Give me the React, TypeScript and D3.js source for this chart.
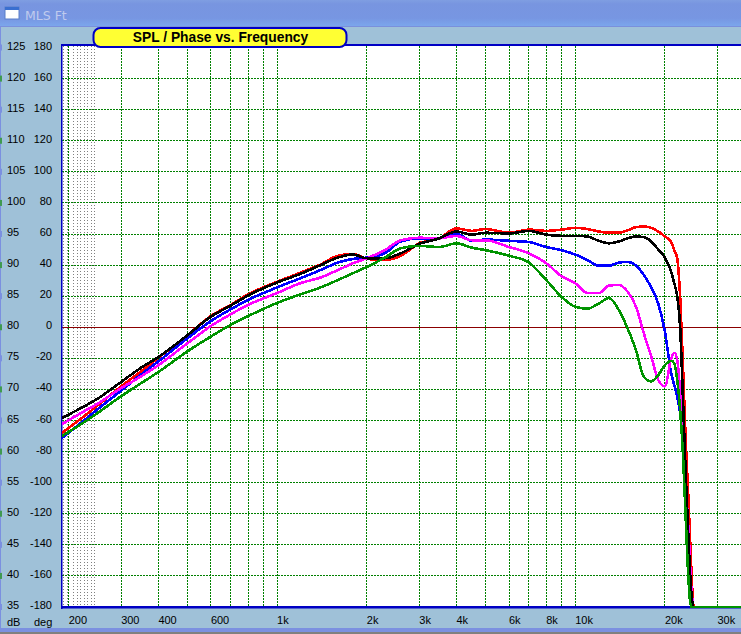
import React, { useEffect, useRef } from 'react';
import * as d3 from 'd3';

const WIDTH = 741;
const HEIGHT = 634;

const freqs = [190, 220, 250, 300, 350, 400, 500, 600, 700, 800, 1000, 1200, 1400, 1600, 1800, 2000, 2300, 2600, 3000, 3500, 4000, 4500, 5000, 6000, 7000, 8000, 9000, 10000, 11000, 12000, 13000, 14000, 15000, 16000, 17000, 18000, 19000, 20000, 21000, 21500, 22000, 22500, 23000, 23500, 24000, 24500, 25000, 36000];

const redDb = [63.0, 65.3, 67.4, 70.5, 72.9, 75.1, 78.7, 81.8, 83.6, 85.3, 87.3, 88.8, 90.1, 91.5, 91.8, 91.0, 90.8, 91.5, 93.5, 94.3, 95.9, 95.5, 95.8, 95.2, 95.7, 95.5, 95.7, 96.0, 95.8, 95.4, 95.2, 95.2, 95.6, 96.1, 96.2, 96.0, 95.4, 94.6, 93.7, 92.4, 91.1, 84.9, 73.9, 61.4, 52.2, 41.7, 35, 35];
const blueDb = [62.2, 64.6, 66.8, 69.8, 72.4, 74.5, 78.2, 81.0, 82.9, 84.4, 86.4, 87.9, 89.2, 90.4, 91.0, 91.2, 91.9, 93.8, 94.3, 94.3, 95.0, 93.9, 94.1, 93.9, 93.7, 92.9, 92.4, 91.7, 90.8, 89.9, 89.9, 90.4, 90.5, 89.9, 88.4, 86.4, 83.8, 79.3, 72.6, 70.7, 68.8, 66.2, 61.9, 53.8, 45.8, 37.7, 35, 35];
const magentaDb = [64.4, 66.2, 67.7, 70.2, 72.1, 73.9, 77.4, 80.2, 82.1, 83.6, 85.5, 87.1, 88.0, 89.2, 90.3, 91.1, 92.4, 94.0, 94.4, 94.3, 94.7, 94.0, 94.0, 92.9, 91.9, 90.3, 88.2, 87.1, 85.5, 85.5, 86.7, 86.8, 85.7, 83.3, 79.0, 75.3, 71.5, 70.5, 75.0, 75.9, 74.7, 69.6, 62.2, 55.1, 47.4, 38.5, 35, 35];
const blackDb = [65.4, 67.0, 68.5, 71.2, 73.5, 75.2, 78.7, 81.7, 83.5, 85.1, 87.2, 88.6, 90.0, 91.2, 91.7, 91.1, 91.1, 91.9, 93.4, 94.3, 95.4, 94.9, 95.2, 95.1, 95.5, 94.9, 94.7, 94.7, 94.6, 93.9, 93.5, 93.8, 94.3, 94.6, 94.5, 93.8, 92.5, 91.2, 88.9, 87.1, 84.9, 80.0, 68.3, 56.2, 45.8, 37.7, 35, 35];
const greenDb = [62.5, 64.4, 66.2, 68.9, 71.0, 72.8, 76.1, 78.5, 80.4, 81.8, 83.9, 85.3, 86.4, 87.6, 88.7, 89.7, 91.2, 92.7, 93.1, 92.9, 93.5, 92.8, 92.4, 91.5, 90.4, 87.6, 84.9, 83.3, 83.0, 83.8, 84.7, 82.8, 79.8, 76.3, 72.0, 71.3, 72.3, 73.9, 74.6, 74.2, 71.5, 66.7, 59.4, 49.0, 39.3, 35, 35, 35];

const series = [
  { name: 'red', values: redDb, color: '#ff0000' },
  { name: 'blue', values: blueDb, color: '#0000ff' },
  { name: 'magenta', values: magentaDb, color: '#ff00ff' },
  { name: 'black', values: blackDb, color: '#000000' },
  { name: 'green', values: greenDb, color: '#009400' },
];

const dbTicks = [125, 120, 115, 110, 105, 100, 95, 90, 85, 80, 75, 70, 65, 60, 55, 50, 45, 40, 35];
const degTicks = [180, 160, 140, 120, 100, 80, 60, 40, 20, 0, -20, -40, -60, -80, -100, -120, -140, -160, -180];
const gridFreqs = [200, 300, 400, 500, 600, 700, 800, 900, 1000, 2000, 3000, 4000, 5000, 6000, 7000, 8000, 9000, 10000, 20000, 30000];
const fineFreqs = [192, 198, 208, 214, 220, 226, 232, 238, 245];
const freqTicks = [200, 300, 400, 600, 1000, 2000, 3000, 4000, 6000, 8000, 10000, 20000, 30000];

const LABEL_FONT = '"Liberation Sans", Arial, sans-serif';
const PANEL = '#9fc1d8';
const BORDER = '#0000c4';

const formatFreq = (f: number) => (f >= 1000 ? `${f / 1000}k` : `${f}`);

export default function App() {
  const svgRef = useRef<SVGSVGElement>(null);

  useEffect(() => {
    if (!svgRef.current) return;
    const svg = d3.select(svgRef.current);
    svg.selectAll('*').remove();

    const x = d3.scaleLog().domain([190, 36000]).range([62, 741]);
    const y = d3.scaleLinear().domain([35, 125]).range([607, 47.5]);

    const defs = svg.append('defs');
    const grad = defs.append('linearGradient').attr('id', 'titlebar').attr('x1', 0).attr('x2', 0).attr('y1', 0).attr('y2', 1);
    grad.append('stop').attr('offset', '0%').attr('stop-color', '#7f9ee2');
    grad.append('stop').attr('offset', '15%').attr('stop-color', '#7895e0');
    grad.append('stop').attr('offset', '70%').attr('stop-color', '#7796e2');
    grad.append('stop').attr('offset', '100%').attr('stop-color', '#7ba6ec');
    defs.append('clipPath').attr('id', 'plot').append('rect').attr('x', 62).attr('y', 45).attr('width', 679).attr('height', 564);

    // Window chrome
    svg.append('rect').attr('width', WIDTH).attr('height', HEIGHT).attr('fill', PANEL);
    svg.append('rect').attr('width', WIDTH).attr('height', 26).attr('fill', 'url(#titlebar)');
    svg.append('rect').attr('y', 26).attr('width', WIDTH).attr('height', 1).attr('fill', '#7a90dc');
    svg.append('rect').attr('x', 5).attr('y', 7).attr('width', 14).attr('height', 12).attr('fill', '#ffffff').attr('stroke', '#5a7fc8');
    svg.append('rect').attr('x', 5).attr('y', 7).attr('width', 14).attr('height', 3).attr('fill', '#3a6fd0');
    svg.append('text').attr('x', 25).attr('y', 20).attr('font-family', '"DejaVu Sans", sans-serif').attr('font-size', 12.5).attr('fill', '#c0cbee').text('MLS Ft');
    svg.append('rect').attr('y', 628).attr('width', WIDTH).attr('height', 4).attr('fill', '#7b90e0');
    svg.append('rect').attr('y', 632).attr('width', WIDTH).attr('height', 2).attr('fill', '#808080');
    svg.append('rect').attr('x', 0).attr('y', 27).attr('width', 1).attr('height', 601).attr('fill', '#7b90e0');

    // Plot area
    svg.append('rect').attr('x', 62).attr('y', 45).attr('width', 679).attr('height', 562).attr('fill', '#ffffff');

    const grid = svg.append('g').attr('shape-rendering', 'crispEdges');
    fineFreqs.forEach(f => {
      grid.append('line')
        .attr('x1', x(f)).attr('x2', x(f)).attr('y1', 46).attr('y2', 607)
        .attr('stroke', '#808080').attr('stroke-dasharray', '1,2');
    });
    gridFreqs.forEach(f => {
      grid.append('line')
        .attr('x1', x(f)).attr('x2', x(f)).attr('y1', 46).attr('y2', 607)
        .attr('stroke', '#008000').attr('stroke-dasharray', '2,1');
    });
    dbTicks.forEach(d => {
      if (d === 125 || d === 35) return;
      grid.append('line')
        .attr('x1', 62).attr('x2', 741).attr('y1', y(d)).attr('y2', y(d))
        .attr('stroke', d === 80 ? '#8b0000' : '#008000')
        .attr('stroke-dasharray', d === 80 ? null : '2,1');
    });

    // Frame
    svg.append('rect').attr('x', 61).attr('y', 44).attr('width', 680).attr('height', 2).attr('fill', BORDER);
    svg.append('rect').attr('x', 61).attr('y', 44).attr('width', 1.5).attr('height', 565).attr('fill', BORDER);
    svg.append('rect').attr('x', 61).attr('y', 606).attr('width', 680).attr('height', 2.5).attr('fill', BORDER);

    // Curves
    const line = d3.line<number>()
      .x((_, i) => x(freqs[i]))
      .y(d => y(d))
      .curve(d3.curveMonotoneX);

    const curves = svg.append('g').attr('clip-path', 'url(#plot)');
    series.forEach(s => {
      curves.append('path')
        .attr('d', line(s.values))
        .attr('fill', 'none')
        .attr('stroke', s.color)
        .attr('stroke-width', 2.6)
        .attr('shape-rendering', 'crispEdges');
    });

    // Left scale labels
    const labels = svg.append('g').attr('font-family', LABEL_FONT).attr('font-size', 11).attr('fill', '#000000');
    dbTicks.forEach((d, i) => {
      const ty = y(d) + 2;
      labels.append('text').attr('x', 7).attr('y', ty).text(d);
      labels.append('text').attr('x', 52).attr('y', ty).attr('text-anchor', 'end').text(degTicks[i]);
      svg.append('rect').attr('x', 0).attr('y', y(d) - 3).attr('width', 2).attr('height', 6)
        .attr('fill', i % 2 === 0 ? '#7b90e0' : '#3f9a50');
    });
    labels.append('text').attr('x', 7).attr('y', 626).text('dB');
    labels.append('text').attr('x', 34).attr('y', 626).text('deg');

    // Frequency labels
    freqTicks.forEach(f => {
      labels.append('text').attr('x', x(f)).attr('y', 624).text(formatFreq(f));
    });

    // Title pill
    svg.append('rect').attr('x', 93.5).attr('y', 28).attr('width', 253).attr('height', 19).attr('rx', 7)
      .attr('fill', '#ffff33').attr('stroke', BORDER).attr('stroke-width', 2);
    svg.append('text').attr('x', 220.5).attr('y', 42).attr('text-anchor', 'middle')
      .attr('font-family', LABEL_FONT).attr('font-size', 13.8).attr('font-weight', 'bold').attr('fill', '#000000')
      .text('SPL / Phase vs. Frequency');
  }, []);

  return (
    <svg
      ref={svgRef}
      width={WIDTH}
      height={HEIGHT}
      style={{ position: 'fixed', left: 0, top: 0, display: 'block' }}
    />
  );
}
